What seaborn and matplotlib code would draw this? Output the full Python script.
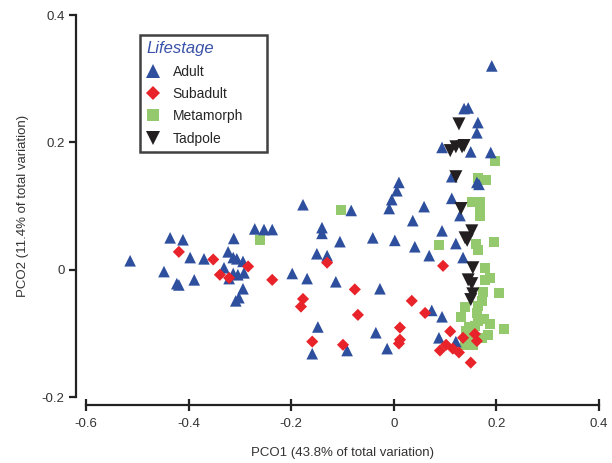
import matplotlib
matplotlib.use("Agg")
import matplotlib.pyplot as plt
import seaborn as sns
import pandas as pd

# PCO scores by life stage
adult_x = [-0.514, -0.436, -0.411, -0.397, -0.370, -0.448, -0.423, -0.419, -0.389,
           -0.323, -0.312, -0.313, -0.306, -0.294, -0.331, -0.313, -0.304, -0.292,
           -0.321, -0.294, -0.302, -0.308, -0.271, -0.253, -0.237, -0.198, -0.169,
           0.010, 0.006, -0.004, -0.009, 0.059, 0.113, 0.113, -0.177, -0.083, 0.037,
           -0.140, -0.140, -0.105, -0.041, 0.002, 0.041, 0.094, 0.121, 0.069, -0.150,
           -0.130, -0.113, -0.027, 0.074, 0.094, -0.148, -0.035, -0.013, -0.159,
           -0.091, 0.088, 0.121, 0.191, 0.137, 0.145, 0.164, 0.162, 0.094, 0.150,
           0.189, 0.162, 0.166, 0.129, 0.135]
adult_y = [0.014, 0.050, 0.047, 0.019, 0.017, -0.003, -0.022, -0.024, -0.016,
           0.028, 0.049, 0.019, 0.017, 0.013, 0.003, -0.006, -0.008, -0.005,
           -0.014, -0.030, -0.044, -0.049, 0.064, 0.063, 0.063, -0.006, -0.014,
           0.137, 0.124, 0.110, 0.096, 0.099, 0.146, 0.112, 0.102, 0.093, 0.077,
           0.066, 0.057, 0.044, 0.050, 0.046, 0.036, 0.061, 0.041, 0.022, 0.025,
           0.022, -0.019, -0.030, -0.064, -0.074, -0.090, -0.099, -0.124, -0.132,
           -0.127, -0.107, -0.113, 0.320, 0.253, 0.254, 0.231, 0.215, 0.192, 0.185,
           0.184, 0.137, 0.134, 0.085, 0.019]

subadult_x = [-0.419, -0.352, -0.339, -0.284, -0.321, -0.237, -0.177, -0.181, -0.130,
              0.096, -0.076, 0.035, -0.070, 0.061, 0.012, 0.012, 0.010, -0.159,
              -0.099, 0.110, 0.135, 0.158, 0.162, 0.102, 0.090, 0.115, 0.127, 0.150]
subadult_y = [0.028, 0.016, -0.008, 0.005, -0.013, -0.016, -0.046, -0.058, 0.011,
              0.006, -0.031, -0.049, -0.071, -0.068, -0.091, -0.110, -0.116, -0.113,
              -0.118, -0.097, -0.107, -0.101, -0.112, -0.118, -0.127, -0.124, -0.130,
              -0.146]

metamorph_x = [-0.261, -0.103, 0.088, 0.197, 0.164, 0.180, 0.152, 0.168, 0.168, 0.168,
               0.160, 0.164, 0.195, 0.178, 0.188, 0.178, 0.174, 0.205, 0.172, 0.139,
               0.131, 0.162, 0.164, 0.188, 0.215, 0.147, 0.184, 0.172, 0.149, 0.154,
               0.139, 0.158, 0.141, 0.176, 0.152, 0.164]
metamorph_y = [0.046, 0.093, 0.038, 0.170, 0.144, 0.141, 0.107, 0.107, 0.096, 0.085,
               0.041, 0.031, 0.044, 0.002, -0.013, -0.017, -0.035, -0.036, -0.049, -0.058,
               -0.074, -0.068, -0.080, -0.086, -0.093, -0.090, -0.102, -0.107, -0.112, -0.119,
               -0.119, -0.088, -0.096, -0.077, -0.104, -0.057]

tadpole_x = [0.127, 0.110, 0.121, 0.133, 0.137, 0.121, 0.131, 0.152, 0.139, 0.143,
             0.154, 0.145, 0.152, 0.154, 0.150]
tadpole_y = [0.229, 0.187, 0.193, 0.193, 0.195, 0.146, 0.096, 0.061, 0.050, 0.046,
             0.003, -0.016, -0.022, -0.038, -0.047]

stages = ["Adult", "Subadult", "Metamorph", "Tadpole"]

# Metamorphs are drawn first, tadpoles last
frames = [
    pd.DataFrame({"PCO1": metamorph_x, "PCO2": metamorph_y, "Lifestage": "Metamorph"}),
    pd.DataFrame({"PCO1": adult_x, "PCO2": adult_y, "Lifestage": "Adult"}),
    pd.DataFrame({"PCO1": subadult_x, "PCO2": subadult_y, "Lifestage": "Subadult"}),
    pd.DataFrame({"PCO1": tadpole_x, "PCO2": tadpole_y, "Lifestage": "Tadpole"}),
]
df = pd.concat(frames, ignore_index=True)

palette = {"Adult": "#2D4F9E", "Subadult": "#E8232A",
           "Metamorph": "#95C96E", "Tadpole": "#231F20"}
markers = {"Adult": "^", "Subadult": "D", "Metamorph": "s", "Tadpole": "v"}
sizes = {"Adult": 70, "Subadult": 38, "Metamorph": 52, "Tadpole": 88}

sns.set_style("white")
plt.rcParams["font.family"] = ["Liberation Sans", "DejaVu Sans"]

fig = plt.figure(figsize=(6.12, 4.63), dpi=100)
ax = fig.add_axes([86 / 612, 66 / 463, 513 / 612, 382 / 463])

sns.scatterplot(data=df, x="PCO1", y="PCO2", hue="Lifestage", style="Lifestage",
                size="Lifestage", hue_order=stages, style_order=stages,
                size_order=stages, sizes=sizes, palette=palette, markers=markers,
                linewidth=0, edgecolor="none", ax=ax, legend="full")

ax.set_xlim(-0.6, 0.4)
ax.set_ylim(-0.2, 0.4)
ax.set_xticks([-0.6, -0.4, -0.2, 0, 0.2, 0.4])
ax.set_xticklabels(["-0.6", "-0.4", "-0.2", "0", "0.2", "0.4"])
ax.set_yticks([-0.2, 0, 0.2, 0.4])
ax.set_yticklabels(["-0.2", "0", "0.2", "0.4"])

for side in ("top", "right"):
    ax.spines[side].set_visible(False)
for side in ("left", "bottom"):
    ax.spines[side].set_linewidth(1.6)
    ax.spines[side].set_color("#222222")
ax.spines["left"].set_position(("outward", 7.5))
ax.spines["bottom"].set_position(("outward", 5.8))

ax.tick_params(axis="x", bottom=True, direction="inout", length=9, width=1.6,
               color="#222222", labelsize=9.5, pad=5, labelcolor="#333333")
ax.tick_params(axis="y", left=True, direction="out", length=5, width=1.6,
               color="#222222", labelsize=9.5, pad=3, labelcolor="#333333")

ax.set_xlabel("PCO1 (43.8% of total variation)", fontsize=9.5, color="#333333",
              labelpad=12)
ax.set_ylabel("PCO2 (11.4% of total variation)", fontsize=9.5, color="#333333",
              labelpad=9)

# Legend box in the upper-left
old = ax.get_legend()
handles = old.legend_handles
labels = [t.get_text() for t in old.get_texts()]
old.remove()
pairs = [(h, l) for h, l in zip(handles, labels) if l in stages]
leg = ax.legend([p[0] for p in pairs], [p[1] for p in pairs], title="Lifestage",
                loc="upper left",
                bbox_to_anchor=(140 / 612, 1 - 152 / 463, 127 / 612, 117 / 463),
                mode="expand", bbox_transform=fig.transFigure, borderaxespad=0,
                fancybox=False, frameon=True, fontsize=10, handlelength=1.0,
                handletextpad=0.9, labelspacing=0.6, borderpad=0.45,
                alignment="left", markerscale=1.15)
leg.get_frame().set_edgecolor("#111111")
leg.get_frame().set_linewidth(1.8)
leg.get_title().set_fontstyle("italic")
leg.get_title().set_fontsize(12)
leg.get_title().set_color("#3A52A8")

fig.savefig("out.png", dpi=100)
